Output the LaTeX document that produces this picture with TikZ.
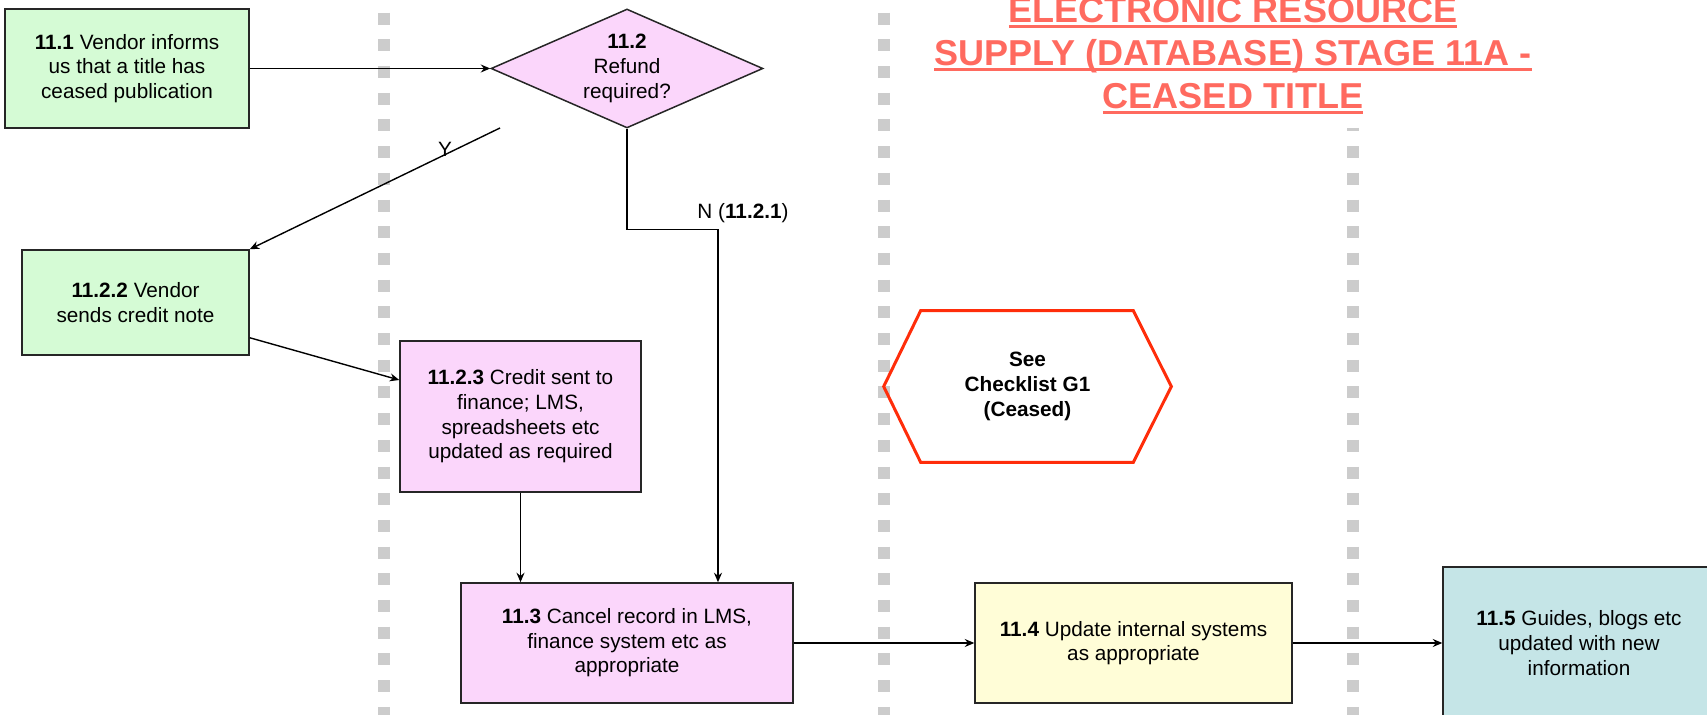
\documentclass[tikz,border=0pt]{standalone}
\usepackage{fontspec}
\setmainfont{Liberation Sans}
\usetikzlibrary{arrows.meta,shapes.geometric}

\definecolor{stepgreen}{HTML}{D5FBD5}
\definecolor{steppink}{HTML}{FBD6FB}
\definecolor{stepyellow}{HTML}{FFFDD7}
\definecolor{stepteal}{HTML}{C5E5E7}
\definecolor{lanegray}{HTML}{CCCCCC}
\definecolor{titlered}{HTML}{FF6A5F}
\definecolor{hexred}{HTML}{FF2D0A}

% underlined title line
\newcommand{\titleline}[1]{\setbox0=\hbox{#1}\dp0=0pt\vtop{\box0\kern1.5pt\hrule height1.7pt}}

\begin{document}
\begin{tikzpicture}[x=0.02cm,y=-0.02cm,
  font=\fontsize{11.8}{14}\selectfont,
  stepbox/.style={draw=black!85,line width=0.03cm,align=center,inner sep=0pt},
  arr/.style={draw=black,line width=0.028cm,-{Stealth[length=1.9mm,width=1.6mm]}},
  lane/.style={lanegray,line width=0.24cm,dash pattern=on 0.24cm off 0.294cm}]

  \useasboundingbox (0,0) rectangle (1707,715);
  \clip (0,0) rectangle (1707,715);

  % swim lanes
  \foreach \x in {384,884}
    \draw[lane] (\x,12.7) -- (\x,715);
  \draw[lane,dash phase=0.17cm] (1353,128) -- (1353,715);

  \node[text=titlered,font=\fontsize{20.5}{24.5}\selectfont\bfseries,align=center] (title) at (1233,56)
    {\titleline{ELECTRONIC RESOURCE}\\\titleline{SUPPLY (DATABASE) STAGE 11A -}\\\titleline{CEASED TITLE}};

  % steps
  \node[stepbox,fill=stepgreen,minimum width=4.88cm,minimum height=2.38cm] (s111) at (127,68.5)
    {\textbf{11.1} Vendor informs\\us that a title has\\ceased publication};
  \node[diamond,draw=black!85,line width=0.03cm,fill=steppink,aspect=2.29,inner sep=0pt,align=center,
    minimum width=5.44cm,minimum height=2.38cm] (s112) at (627,68.5) {\textbf{11.2}\\Refund\\required?};
  \node[stepbox,fill=stepgreen,minimum width=4.54cm,minimum height=2.1cm] (s1122) at (135.5,302.5)
    {\textbf{11.2.2} Vendor\\sends credit note};
  \node[stepbox,fill=steppink,minimum width=4.82cm,minimum height=3.02cm] (s1123) at (520.5,416.5)
    {\textbf{11.2.3} Credit sent to\\finance; LMS,\\spreadsheets etc\\updated as required};
  \node[stepbox,fill=steppink,minimum width=6.64cm,minimum height=2.4cm] (s113) at (627,643)
    {\textbf{11.3} Cancel record in LMS,\\finance system etc as\\appropriate};
  \node[stepbox,fill=stepyellow,minimum width=6.34cm,minimum height=2.4cm] (s114) at (1133.5,643)
    {\textbf{11.4} Update internal systems\\as appropriate};
  \node[stepbox,fill=stepteal,minimum width=5.44cm,minimum height=3.04cm] (s115) at (1579,643)
    {\textbf{11.5} Guides, blogs etc\\updated with new\\information};

  % checklist
  \node[font=\fontsize{11.8}{14}\selectfont\bfseries,align=center,minimum width=5.74cm,minimum height=3.02cm] (chk) at (1027.5,386.5)
    {See\\Checklist G1\\(Ceased)};
  \draw[hexred,line width=0.06cm] (chk.west) -- ([xshift=0.74cm]chk.north west) -- ([xshift=-0.76cm]chk.north east)
    -- (chk.east) -- ([xshift=-0.76cm]chk.south east) -- ([xshift=0.74cm]chk.south west) -- cycle;

  % flow
  \draw[arr] (s111) -- (s112);
  \coordinate (yfrom) at (500,128);
  \draw[arr] (yfrom) -- node[pos=0.22,anchor=south,inner sep=0pt,yshift=-0.05cm] (ylab) {Y} (s1122.north east);
  \draw[arr] (s112.south) -- ++(0,101) -| node[pos=0.5,anchor=base,xshift=0.5cm,yshift=0.22cm] (nlab) {N (\textbf{11.2.1})}
    ([xshift=1.82cm]s113.north);
  \draw[arr] ([yshift=0.36cm]s1122.south east) -- ([yshift=0.73cm]s1123.west);
  \draw[arr] (s1123.south) -- (s1123.south |- s113.north);
  \draw[arr] (s113) -- (s114);
  \draw[arr] (s114) -- (s115);

\end{tikzpicture}
\end{document}
